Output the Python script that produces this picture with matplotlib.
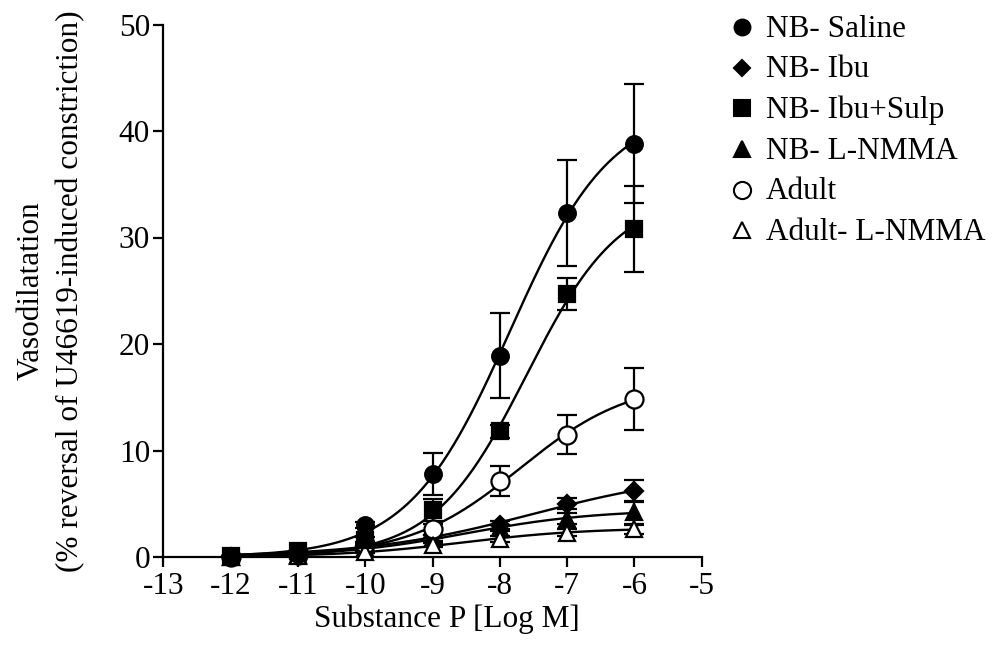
import numpy as np
import matplotlib
matplotlib.use("Agg")
import matplotlib.pyplot as plt
from matplotlib.lines import Line2D

plt.rcParams['font.family'] = ['Liberation Serif', 'DejaVu Serif']
plt.rcParams['axes.unicode_minus'] = False

# Substance P concentration (log M) and mean vasodilatation (%) per group
log_conc = [-12, -11, -10, -9, -8, -7, -6]

saline = [0.1, 0.3, 3.0, 7.8, 18.9, 32.3, 38.8]
saline_err = [0, 0, 0.3, 2.0, 4.0, 5.0, 5.6]

ibu = [0.0, 0.3, 1.0, 2.1, 3.0, 5.0, 6.2]
ibu_err = [0, 0, 0.2, 0.3, 0.4, 0.5, 1.0]

ibu_sulp = [0.1, 0.6, 1.6, 4.4, 11.8, 24.7, 30.8]
ibu_sulp_err = [0, 0, 0.3, 1.0, 0.6, 1.5, 4.0]

lnmma = [0.0, 0.2, 0.8, 1.8, 2.7, 3.6, 4.2]
lnmma_err = [0, 0, 0.2, 0.3, 0.3, 0.5, 1.1]

adult = [0.0, 0.2, 1.2, 2.6, 7.1, 11.5, 14.8]
adult_err = [0, 0, 0.2, 0.5, 1.4, 1.8, 2.9]

adult_lnmma = [0.0, 0.1, 0.5, 1.1, 1.7, 2.3, 2.6]
adult_lnmma_err = [0, 0, 0.1, 0.2, 0.3, 0.3, 0.4]

labels = ['NB- Saline', 'NB- Ibu', 'NB- Ibu+Sulp', 'NB- L-NMMA', 'Adult', 'Adult- L-NMMA']


def fit_logistic(x, y):
    """Least-squares sigmoid (bottom = 0) via grid search on EC50 and slope."""
    x = np.asarray(x, float)
    y = np.asarray(y, float)
    best = None
    for ec50 in np.linspace(-10, -3, 141):
        for hill in np.linspace(0.3, 2.0, 69):
            f = 1.0 / (1.0 + 10 ** ((ec50 - x) * hill))
            top = np.dot(f, y) / np.dot(f, f)
            sse = np.sum((y - top * f) ** 2)
            if best is None or sse < best[0]:
                best = (sse, top, ec50, hill)
    _, top, ec50, hill = best
    return lambda xx: top / (1.0 + 10 ** ((ec50 - xx) * hill))


W, H = 995, 659
fig = plt.figure(figsize=(W / 100, H / 100), dpi=100)
ax = fig.add_axes([163.3 / W, 1 - 557 / H, 538.4 / W, 532.5 / H])

styles = [
    dict(marker='o', mfc='black', ms=12),
    dict(marker='D', mfc='black', ms=9),
    dict(marker='s', mfc='black', ms=11.5),
    dict(marker='^', mfc='black', ms=12),
    dict(marker='o', mfc='white', ms=13),
    dict(marker='^', mfc='white', ms=12),
]
# filled circles and squares sit on top of the others
marker_z = [5, 4, 6, 4, 4, 4]
series = [(saline, saline_err), (ibu, ibu_err), (ibu_sulp, ibu_sulp_err),
          (lnmma, lnmma_err), (adult, adult_err), (adult_lnmma, adult_lnmma_err)]

xs = np.linspace(-12, -6, 300)
for (vals, errs), style, z in zip(series, styles, marker_z):
    curve = fit_logistic(log_conc, vals)
    ax.plot(xs, curve(xs), color='black', lw=1.7, zorder=2)
    ax.errorbar(log_conc, vals, yerr=errs, fmt='none', ecolor='black',
                elinewidth=1.6, capsize=7.5, capthick=1.6, zorder=3)
    ax.plot(log_conc, vals, ls='none', mec='black', mew=1.6,
            clip_on=False, zorder=z, **style)

ax.set_xlim(-13, -5)
ax.set_ylim(0, 50)
ax.set_xticks(np.arange(-13, -4))
ax.set_yticks(np.arange(0, 51, 10))
for s in ['top', 'right']:
    ax.spines[s].set_visible(False)
for s in ['left', 'bottom']:
    ax.spines[s].set_linewidth(1.6)
ax.tick_params(direction='out', length=7.5, width=1.6, labelsize=22.5)
ax.tick_params(axis='x', pad=3)
ax.tick_params(axis='y', pad=2)

ax.set_xlabel('Substance P [Log M]', fontsize=22.5)
ax.xaxis.set_label_coords((447 - 163.3) / 538.4, -0.09)
ax.set_ylabel('Vasodilatation\n(% reversal of U46619-induced constriction)',
              fontsize=22.5, linespacing=1.45)
ax.yaxis.set_label_coords(-0.145, 0.5)

# legend drawn row by row to the right of the axes
for i, (lab, style) in enumerate(zip(labels, styles)):
    base = 36.7 + 40.6 * i
    ms = style['ms'] * 0.95
    fig.add_artist(Line2D([742 / W], [1 - (base - 9.5) / H], transform=fig.transFigure,
                          ls='none', marker=style['marker'], mfc=style['mfc'],
                          mec='black', mew=1.5, ms=ms))
    fig.text(766 / W, 1 - base / H, lab, fontsize=22.5, va='baseline', ha='left')

fig.savefig('out.png', dpi=100)
